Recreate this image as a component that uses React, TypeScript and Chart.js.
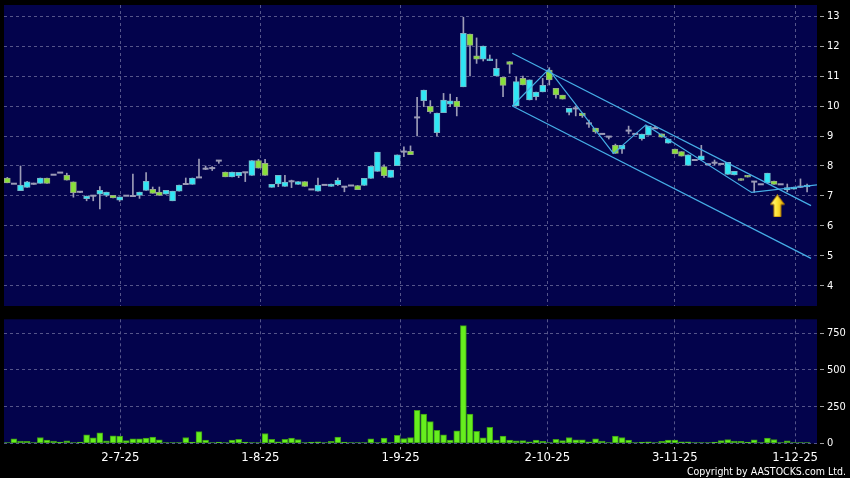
import React, { useEffect, useRef } from 'react';
import { Chart, registerables } from 'chart.js';

Chart.register(...registerables);

// ---------- data ----------
const opens = [7.60,7.41,7.18,7.29,7.41,7.42,7.60,7.71,7.78,7.69,7.47,7.14,6.91,7.01,7.06,7.02,7.02,6.86,7.01,7.00,7.02,7.19,7.22,7.13,7.06,6.84,7.16,7.40,7.39,7.62,7.91,7.93,8.18,7.80,7.64,7.68,7.79,7.69,8.18,8.09,7.29,7.40,7.32,7.49,7.39,7.48,7.22,7.16,7.37,7.32,7.38,7.31,7.35,7.35,7.35,7.59,7.82,7.98,7.62,8.01,8.48,8.49,9.62,10.18,9.99,9.11,9.78,10.06,10.16,10.64,12.40,11.67,11.56,11.51,11.00,10.96,11.48,10.00,10.92,10.20,10.31,10.47,11.20,10.59,10.36,9.79,9.92,9.76,9.42,9.26,9.07,8.98,8.69,8.56,9.18,9.07,8.91,9.03,9.26,9.07,8.76,8.56,8.48,8.02,8.20,8.20,8.06,8.11,8.07,7.72,7.70,7.58,7.69,7.48,7.39,7.44,7.50,7.39,7.20,7.23,7.31,7.30];
const highs = [7.62,7.41,8.00,7.49,7.43,7.60,7.60,7.71,7.78,7.76,7.47,7.14,7.00,7.01,7.31,7.13,7.02,6.97,7.01,7.73,7.13,7.78,7.30,7.30,7.19,7.16,7.36,7.60,7.60,8.23,8.00,7.98,8.18,7.80,7.80,7.79,7.79,8.18,8.22,8.22,7.39,7.69,7.69,7.53,7.48,7.48,7.22,7.60,7.37,7.40,7.60,7.31,7.35,7.35,7.59,7.99,8.46,8.04,7.86,8.37,8.64,8.67,10.29,10.53,10.18,9.76,10.42,10.40,10.29,12.96,12.40,12.27,12.00,11.70,11.56,10.96,11.48,10.98,11.00,10.87,10.46,10.92,11.28,10.59,10.36,9.92,10.00,9.76,9.53,9.26,9.07,8.98,8.73,8.69,9.33,9.07,9.06,9.33,9.33,9.07,8.90,8.56,8.48,8.37,8.20,8.69,8.06,8.20,8.07,8.12,7.82,7.58,7.69,7.48,7.39,7.76,7.50,7.39,7.40,7.30,7.57,7.40];
const lows = [7.44,7.41,7.18,7.29,7.39,7.42,7.42,7.71,7.78,7.53,6.96,7.11,6.84,6.84,6.57,6.98,6.94,6.82,7.01,6.98,6.92,7.19,7.09,7.02,7.06,6.84,7.16,7.40,7.39,7.62,7.88,7.85,8.09,7.64,7.64,7.61,7.48,7.69,7.93,7.69,7.29,7.31,7.32,7.28,7.39,7.32,7.22,7.16,7.37,7.32,7.35,7.14,7.35,7.21,7.35,7.59,7.82,7.62,7.62,8.01,8.31,8.38,9.00,9.98,9.76,9.00,9.78,9.98,9.67,10.64,11.00,11.42,11.50,11.51,11.00,10.31,11.09,10.00,10.70,10.20,10.20,10.47,10.70,10.26,10.23,9.70,9.67,9.62,9.29,9.09,9.07,8.90,8.42,8.42,9.07,9.07,8.86,9.03,9.26,8.96,8.76,8.40,8.33,8.02,8.20,8.20,8.06,8.03,8.07,7.72,7.70,7.52,7.63,7.12,7.39,7.44,7.39,7.39,7.14,7.23,7.28,7.14];
const closes = [7.44,7.41,7.36,7.47,7.41,7.60,7.42,7.71,7.78,7.53,7.11,7.14,7.00,7.01,7.19,7.13,6.94,6.97,7.01,7.00,7.13,7.49,7.09,7.02,7.19,7.16,7.36,7.40,7.60,7.62,7.91,7.93,8.18,7.64,7.80,7.79,7.79,8.18,7.93,7.69,7.39,7.69,7.46,7.49,7.48,7.32,7.22,7.36,7.37,7.40,7.52,7.31,7.35,7.21,7.59,7.99,8.46,7.68,7.86,8.37,8.48,8.38,9.62,10.53,9.81,9.76,10.20,10.17,9.98,12.42,12.02,11.56,12.00,11.57,11.26,10.69,11.39,10.81,10.70,10.87,10.46,10.69,10.87,10.37,10.23,9.92,9.92,9.68,9.42,9.14,9.07,8.98,8.42,8.69,9.18,9.07,9.06,9.33,9.26,8.96,8.90,8.40,8.33,8.37,8.20,8.34,8.06,8.11,8.07,8.12,7.82,7.52,7.63,7.48,7.39,7.76,7.39,7.39,7.28,7.30,7.31,7.36];
const volumes = [2,32,16,14,5,41,23,16,9,18,5,9,59,38,72,18,52,50,20,32,32,36,43,25,5,2,5,41,9,81,23,5,9,5,23,29,9,7,5,68,29,11,29,36,27,2,9,11,5,14,43,9,7,1,1,32,5,36,7,56,34,41,225,200,149,90,59,23,86,800,200,83,38,110,23,50,23,18,20,11,23,14,7,29,20,41,25,25,11,32,16,2,50,41,23,2,9,11,5,14,23,23,11,11,2,5,2,9,20,27,16,14,9,25,2,36,27,2,18,5,7,5];

const dateLabels = ['2-7-25', '1-8-25', '1-9-25', '2-10-25', '3-11-25', '1-12-25'];
const dateTickIndex = [17.1, 38.3, 59.5, 81.7, 101, 119.2];
const priceTicks = [4, 5, 6, 7, 8, 9, 10, 11, 12, 13];
const volumeTicks = [0, 250, 500, 750];

const channelUpper = [{ x: 76.4, y: 11.76 }, { x: 121.6, y: 6.68 }];
const channelLower = [{ x: 76.4, y: 10.0 }, { x: 121.6, y: 4.92 }];
const zigzag = [
  { x: 76.4, y: 10.0 },
  { x: 81.9, y: 11.22 },
  { x: 91.7, y: 8.42 },
  { x: 96.6, y: 9.37 },
  { x: 112.6, y: 7.12 },
  { x: 122.5, y: 7.37 },
];
const arrowPoint = [{ x: 116.5, y: 6.67 }];

// ---------- ranges & styles ----------
const X_MIN = -0.5;
const X_MAX = 122.5;
const PRICE_MIN = 3.333;
const PRICE_MAX = 13.367;
const VOL_MAX = 843;

const NAVY = '#03034c';
const GRID = '#55558a';
const TICK = '#a0a0a0';
const FONT = "'DejaVu Sans Condensed', 'DejaVu Sans', sans-serif";
const CYAN_FILL = '#30e6f4';
const CYAN_EDGE = '#78b4c6';
const GREEN_FILL = '#88e03a';
const GREEN_EDGE = '#98a88a';
const WICK = '#9c9cb6';
const LINE = '#46aee6';

const panelBg = {
  id: 'panelBg',
  beforeDraw(chart: any) {
    const { ctx, chartArea: a } = chart;
    ctx.save();
    ctx.fillStyle = NAVY;
    ctx.fillRect(a.left, a.top, a.right - a.left, a.bottom - a.top);
    ctx.restore();
  },
};

function makeArrow(): HTMLCanvasElement {
  const c = document.createElement('canvas');
  c.width = 15;
  c.height = 23;
  const g = c.getContext('2d')!;
  const grad = g.createLinearGradient(0, 0, 15, 0);
  grad.addColorStop(0, '#fff8b0');
  grad.addColorStop(0.45, '#ffe83a');
  grad.addColorStop(1, '#e2a400');
  g.beginPath();
  g.moveTo(7.5, 0.5);
  g.lineTo(14.5, 10);
  g.lineTo(11, 10);
  g.lineTo(11, 22.5);
  g.lineTo(4, 22.5);
  g.lineTo(4, 10);
  g.lineTo(0.5, 10);
  g.closePath();
  g.fillStyle = grad;
  g.fill();
  g.strokeStyle = '#b88000';
  g.lineWidth = 1;
  g.stroke();
  return c;
}

const setDateTicks = (s: any) => {
  s.ticks = dateTickIndex.map((v) => ({ value: v }));
};

const fitRightAxis = (s: any) => {
  s.width = 33;
  s.paddingTop = 0;
  s.paddingBottom = 0;
};

export default function App() {
  const priceRef = useRef<HTMLCanvasElement>(null);
  const volRef = useRef<HTMLCanvasElement>(null);

  useEffect(() => {
    const idx = opens.map((_, i) => i);
    const isDoji = (i: number) => opens[i] === closes[i];
    const bodyIdx = idx.filter((i) => !isDoji(i));
    const dojiIdx = idx.filter((i) => isDoji(i));
    const up = (i: number) => closes[i] > opens[i];

    const priceChart = new Chart(priceRef.current!, {
      type: 'bar',
      data: {
        datasets: [
          {
            type: 'line',
            data: arrowPoint,
            showLine: false,
            pointStyle: makeArrow() as any,
            pointRadius: 8,
            order: -3,
          } as any,
          {
            type: 'line',
            data: zigzag,
            borderColor: LINE,
            borderWidth: 1.2,
            pointRadius: 0,
            order: -2,
          } as any,
          {
            type: 'line',
            data: channelUpper,
            borderColor: LINE,
            borderWidth: 1.2,
            pointRadius: 0,
            order: -2,
          } as any,
          {
            type: 'line',
            data: channelLower,
            borderColor: LINE,
            borderWidth: 1.2,
            pointRadius: 0,
            order: -2,
          } as any,
          {
            type: 'bar',
            data: bodyIdx.map((i) => ({ x: i, y: [opens[i], closes[i]] })),
            backgroundColor: bodyIdx.map((i) => (up(i) ? CYAN_FILL : GREEN_FILL)),
            borderColor: bodyIdx.map((i) => (up(i) ? CYAN_EDGE : GREEN_EDGE)),
            borderWidth: 1,
            borderSkipped: false,
            barThickness: 6,
            grouped: false,
            order: 0,
          } as any,
          {
            type: 'line',
            data: dojiIdx.map((i) => ({ x: i, y: opens[i] })),
            showLine: false,
            pointStyle: 'line',
            pointRadius: 3,
            pointBorderWidth: 2,
            pointBorderColor: WICK,
            pointBackgroundColor: WICK,
            order: 1,
          } as any,
          {
            type: 'bar',
            data: idx.map((i) => ({ x: i, y: [lows[i], highs[i]] })),
            backgroundColor: WICK,
            borderWidth: 0,
            barThickness: 1,
            grouped: false,
            order: 2,
          } as any,
        ],
      },
      options: {
        animation: false,
        responsive: false,
        devicePixelRatio: 1,
        events: [],
        layout: { autoPadding: false, padding: { left: 4, top: 5, bottom: 4, right: 0 } },
        plugins: { legend: { display: false }, tooltip: { enabled: false } },
        scales: {
          x: {
            type: 'linear',
            min: X_MIN,
            max: X_MAX,
            offset: false,
            afterBuildTicks: setDateTicks,
            afterFit: (s: any) => {
              s.height = 0;
              s.paddingLeft = 0;
              s.paddingRight = 0;
            },
            grid: { color: GRID, offset: false, drawTicks: false },
            border: { display: false, dash: [3, 3] },
            ticks: { display: false },
          },
          y: {
            position: 'right',
            min: PRICE_MIN,
            max: PRICE_MAX,
            afterBuildTicks: (s: any) => {
              s.ticks = priceTicks.map((v) => ({ value: v }));
            },
            afterFit: fitRightAxis,
            grid: {
              color: GRID,
              drawTicks: true,
              tickLength: 7,
              tickColor: TICK,
              tickWidth: 1,
              tickBorderDash: [0, 3, 4, 40],
            },
            border: { display: false, dash: [3, 3] },
            ticks: { color: '#ffffff', font: { family: FONT, size: 11 }, padding: 3 },
          },
        } as any,
      },
      plugins: [panelBg],
    });

    const volChart = new Chart(volRef.current!, {
      type: 'bar',
      data: {
        datasets: [
          {
            data: idx.map((i) => ({ x: i, y: volumes[i] })),
            backgroundColor: '#66ee1e',
            borderColor: '#3c9a16',
            borderWidth: 1,
            borderSkipped: false,
            barThickness: 6,
            minBarLength: 1,
            grouped: false,
          } as any,
        ],
      },
      options: {
        animation: false,
        responsive: false,
        devicePixelRatio: 1,
        events: [],
        layout: { autoPadding: false, padding: { left: 4, top: 9.3, bottom: 0, right: 0 } },
        plugins: { legend: { display: false }, tooltip: { enabled: false } },
        scales: {
          x: {
            type: 'linear',
            min: X_MIN,
            max: X_MAX,
            offset: false,
            afterBuildTicks: setDateTicks,
            afterFit: (s: any) => {
              s.height = 34.5;
              s.paddingLeft = 0;
              s.paddingRight = 0;
            },
            grid: {
              color: GRID,
              offset: false,
              drawTicks: true,
              tickLength: 6,
              tickColor: TICK,
              tickBorderDash: [0, 3, 3, 40],
            },
            border: { display: false, dash: [3, 3] },
            ticks: {
              color: '#ffffff',
              font: { family: FONT, size: 13 },
              padding: 0,
              maxRotation: 0,
              autoSkip: false,
              callback: (_v: any, i: number) => dateLabels[i],
            },
          },
          y: {
            position: 'right',
            min: 0,
            max: VOL_MAX,
            afterBuildTicks: (s: any) => {
              s.ticks = volumeTicks.map((v) => ({ value: v }));
            },
            afterFit: fitRightAxis,
            grid: {
              color: GRID,
              drawTicks: true,
              tickLength: 7,
              tickColor: TICK,
              tickWidth: 1,
              tickBorderDash: [0, 3, 4, 40],
            },
            border: { display: false, dash: [3, 3] },
            ticks: { color: '#ffffff', font: { family: FONT, size: 11 }, padding: 3 },
          },
        } as any,
      },
      plugins: [panelBg],
    });

    return () => {
      priceChart.destroy();
      volChart.destroy();
    };
  }, []);

  return (
    <div
      style={{
        position: 'fixed',
        left: 0,
        top: 0,
        width: 850,
        height: 478,
        background: '#000000',
        overflow: 'hidden',
      }}
    >
      <canvas
        ref={priceRef}
        width={850}
        height={310}
        style={{ position: 'absolute', left: 0, top: 0, width: 850, height: 310 }}
      />
      <canvas
        ref={volRef}
        width={850}
        height={168}
        style={{ position: 'absolute', left: 0, top: 310, width: 850, height: 168 }}
      />
      <div
        style={{
          position: 'absolute',
          right: 4,
          top: 466,
          color: '#ffffff',
          fontFamily: FONT,
          fontSize: 10.5,
          lineHeight: 1,
          whiteSpace: 'nowrap',
        }}
      >
        Copyright by AASTOCKS.com Ltd.
      </div>
    </div>
  );
}
